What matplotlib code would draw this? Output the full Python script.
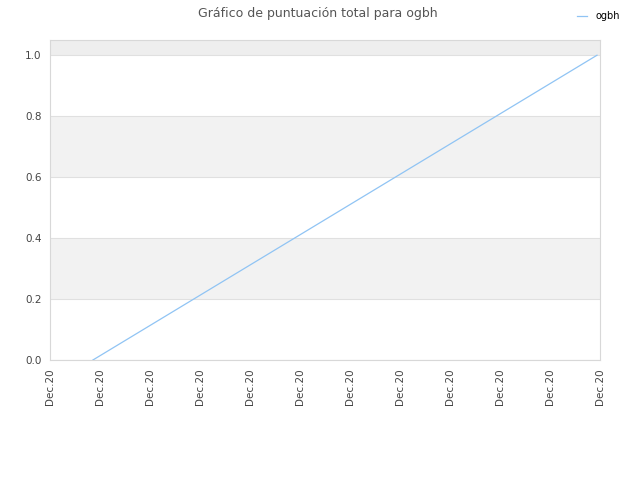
import matplotlib
matplotlib.use("Agg")
import matplotlib.pyplot as plt

# data
tick_labels = ["Dec.20"] * 12
x_values = [0.86, 10.94]
scores = [0.0, 1.0]
band_edges = [(0.2, 0.4), (0.6, 0.8), (1.0, 1.05)]


def main():
    fig = plt.figure(figsize=(6.4, 4.8), dpi=100)
    ax = fig.add_axes([0.078, 0.25, 0.8595, 0.6667])

    for lo, hi in band_edges:
        color = "#eeeeee" if hi > 1.0 else "#f2f2f2"
        ax.axhspan(lo, hi, color=color, zorder=0, lw=0)

    ax.plot(x_values, scores, color="#90c4f4", lw=0.9, label="ogbh", zorder=3)

    ax.set_xlim(0, 11)
    ax.set_ylim(0, 1.05)
    ax.set_xticks(range(len(tick_labels)))
    ax.set_xticklabels(tick_labels, rotation=90, fontsize=7.5, color="#444444")
    ax.set_yticks([0.0, 0.2, 0.4, 0.6, 0.8, 1.0])
    ax.set_yticklabels(["0.0", "0.2", "0.4", "0.6", "0.8", "1.0"], fontsize=7.5, color="#444444")
    ax.tick_params(length=0, pad=6)
    ax.grid(axis="y", color="#e0e0e0", lw=0.8, zorder=1)
    ax.set_axisbelow(True)
    for s in ax.spines.values():
        s.set_color("#d8d8d8")
        s.set_linewidth(0.8)

    fig.suptitle("Gráfico de puntuación total para ogbh", x=0.497, y=0.985,
                 fontsize=9, color="#555555")
    fig.legend(loc="upper right", bbox_to_anchor=(0.983, 0.995), frameon=False,
               fontsize=7, handlelength=1.0, handletextpad=0.9)

    fig.savefig("out.png", dpi=100)


if __name__ == "__main__":
    main()
